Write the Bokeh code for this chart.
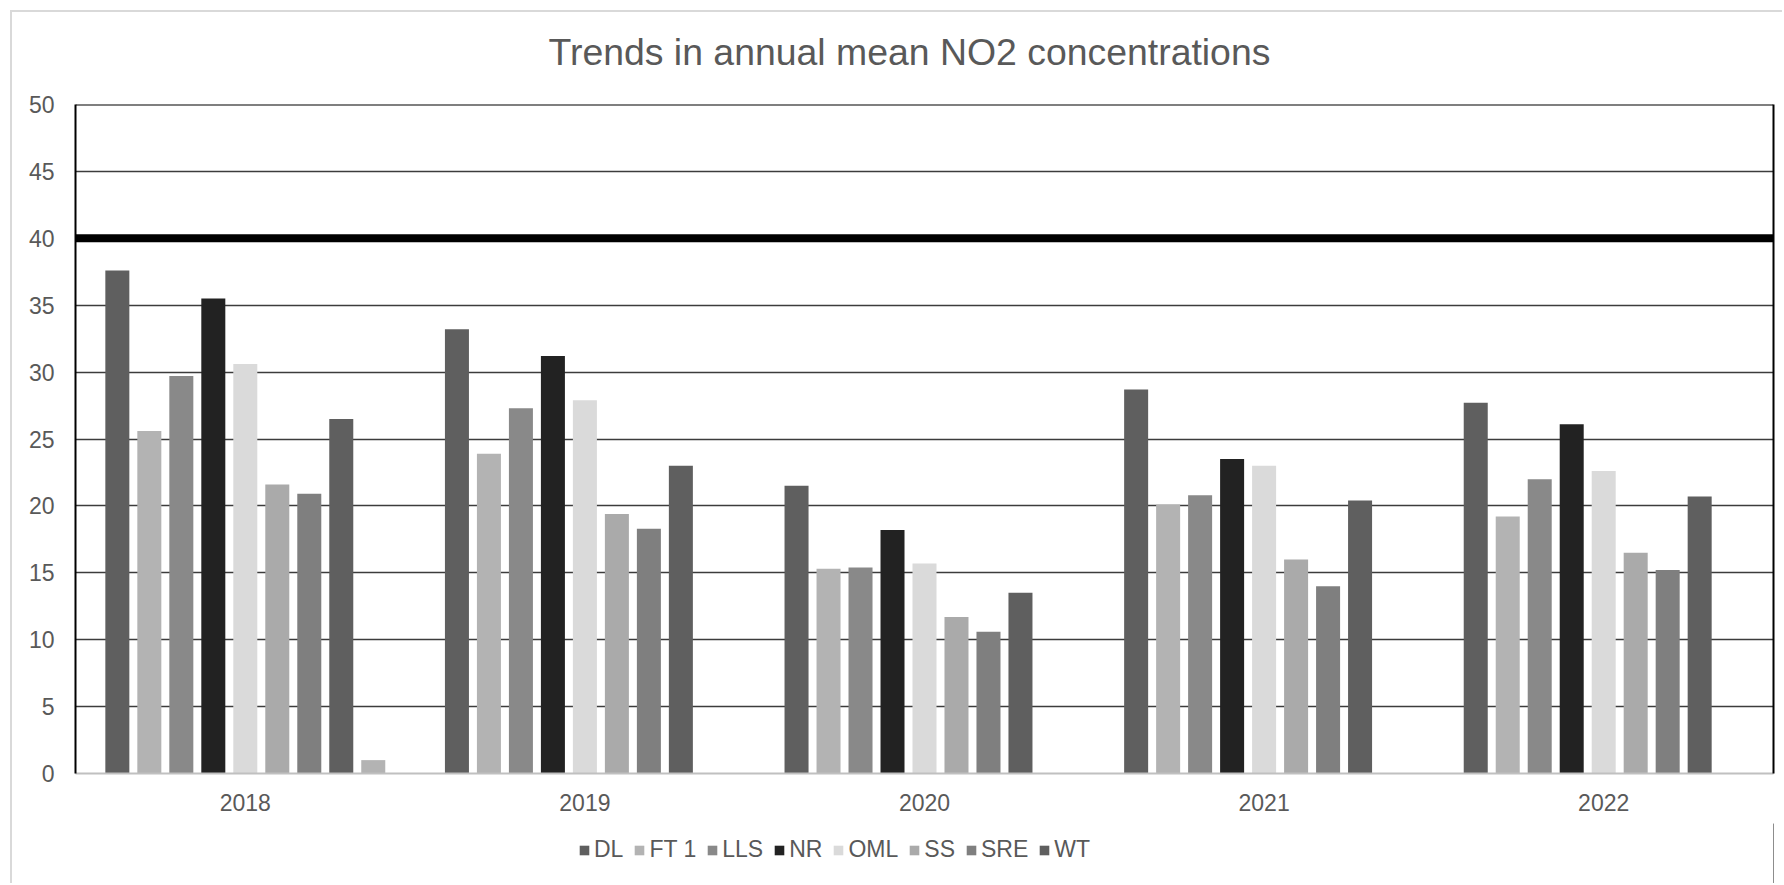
from bokeh.plotting import figure
from bokeh.layouts import column
from bokeh.models import (FactorRange, Range1d, SingleIntervalTicker, FixedTicker, LinearAxis,
                          Legend, LegendItem, Span, ColumnDataSource, Label)
from bokeh.transform import dodge
from bokeh.embed import file_html
from bokeh.resources import INLINE

# ---- data ----
years = ["2018", "2019", "2020", "2021", "2022"]
series_names = ["DL", "FT 1", "LLS", "NR", "OML", "SS", "SRE", "WT"]
DL = [37.6, 33.2, 21.5, 28.7, 27.7]
FT1 = [25.6, 23.9, 15.3, 20.1, 19.2]
LLS = [29.7, 27.3, 15.4, 20.8, 22.0]
NR = [35.5, 31.2, 18.2, 23.5, 26.1]
OML = [30.6, 27.9, 15.7, 23.0, 22.6]
SS = [21.6, 19.4, 11.7, 16.0, 16.5]
SRE = [20.9, 18.3, 10.6, 14.0, 15.2]
WT = [26.5, 23.0, 13.5, 20.4, 20.7]
EXTRA = [1.0, 0.0, 0.0, 0.0, 0.0]   # unlabelled ninth series
objective = 40
title_text = "Trends in annual mean NO2 concentrations"

colors = ["#5f5f5f", "#b3b3b3", "#898989", "#222222", "#dadada", "#aaaaaa", "#7f7f7f", "#5f5f5f", "#b3b3b3"]
FONT = "Liberation Sans"
TXT = "#595959"
W = 1772

# ---- title strip ----
tf = figure(width=W, height=80, x_range=Range1d(75, 1773), y_range=Range1d(0, 80),
            output_backend="svg", toolbar_location=None, x_axis_type=None, y_axis_type=None,
            min_border_left=63, min_border_right=11, min_border_top=0, min_border_bottom=0,
            outline_line_color=None, background_fill_color="white", border_fill_color="white")
tf.grid.visible = False
tf.margin = (10, 0, 0, 10)
tf.styles = {"border-left": "2px solid #d9d9d9", "border-top": "2px solid #d9d9d9"}
tf.add_layout(Label(x=548, y=41, text=title_text, text_font=FONT, text_font_size="37.4px",
                    text_color=TXT, text_align="left", text_baseline="alphabetic"))

# ---- main chart ----
src = ColumnDataSource(dict(year=years, DL=DL, FT1=FT1, LLS=LLS, NR=NR, OML=OML,
                            SS=SS, SRE=SRE, WT=WT, EXTRA=EXTRA))
cols = ["DL", "FT1", "LLS", "NR", "OML", "SS", "SRE", "WT", "EXTRA"]

p = figure(x_range=FactorRange(*years, range_padding=0), y_range=Range1d(0, 50),
           width=W, height=733, output_backend="svg", toolbar_location=None,
           min_border_left=63, min_border_right=11, min_border_top=14, min_border_bottom=50,
           background_fill_color="white", border_fill_color="white")
p.margin = (0, 0, 0, 10)
p.styles = {"border-left": "2px solid #d9d9d9"}
p.outline_line_color = None

pitch = 0.0942
bw = 0.0707
renderers = []
for i, c in enumerate(cols):
    r = p.vbar(x=dodge("year", (i - 4) * pitch, range=p.x_range), top=c, width=bw,
               source=src, fill_color=colors[i], line_color=None)
    renderers.append(r)

p.add_layout(Span(location=objective, dimension="width", line_color="black", line_width=8))
p.add_layout(Span(location=50, dimension="width", line_color="black", line_width=2))

p.yaxis.ticker = SingleIntervalTicker(interval=5)
p.yaxis.axis_line_color = "black"
p.yaxis.axis_line_width = 2
p.yaxis.major_tick_line_color = None
p.yaxis.major_tick_out = 0
p.yaxis.minor_tick_line_color = None
p.yaxis.major_label_text_font = FONT
p.yaxis.major_label_text_font_size = "23px"
p.yaxis.major_label_text_color = TXT
p.yaxis.major_label_standoff = 17

p.xaxis.axis_line_color = "#c0c0c0"
p.xaxis.axis_line_width = 2
p.xaxis.major_tick_line_color = None
p.xaxis.major_label_text_font = FONT
p.xaxis.major_label_text_font_size = "23px"
p.xaxis.major_label_text_color = TXT
p.xaxis.major_label_standoff = 14

right = LinearAxis(ticker=FixedTicker(ticks=[]), axis_line_color="black", axis_line_width=2,
                   major_label_text_font_size="0px", major_tick_line_color=None,
                   minor_tick_line_color=None, major_tick_out=0)
p.add_layout(right, "right")

p.xgrid.grid_line_color = None
p.ygrid.grid_line_color = "#3c3c3c"
p.ygrid.grid_line_width = 1.4

# ---- legend strip ----
lf = figure(width=W, height=60, x_range=Range1d(0, 1), y_range=Range1d(0, 1),
            output_backend="svg", toolbar_location=None, x_axis_type=None, y_axis_type=None,
            min_border_left=63, min_border_right=11, min_border_top=0, min_border_bottom=0,
            outline_line_color=None, background_fill_color="white", border_fill_color="white")
lf.grid.visible = False
lf.margin = (0, 0, 0, 10)
lf.styles = {"border-left": "2px solid #d9d9d9"}
# legend-key renderers: their single point lies outside the visible range
leg_renderers = [lf.vbar(x=[5], top=[5], width=0.1, fill_color=colors[i], line_color=None)
                 for i in range(len(series_names))]
legend = Legend(items=[LegendItem(label=n, renderers=[leg_renderers[i]]) for i, n in enumerate(series_names)],
                orientation="horizontal", location=(503, 20),
                label_text_font=FONT, label_text_font_size="23px", label_text_color=TXT,
                glyph_width=12, glyph_height=12, label_standoff=4, spacing=10,
                padding=0, margin=0, border_line_color=None, background_fill_alpha=0,
                label_height=24)
lf.add_layout(legend, "center")

layout = column(tf, p, lf, spacing=0)
open("out.html", "w").write(file_html(layout, INLINE))
